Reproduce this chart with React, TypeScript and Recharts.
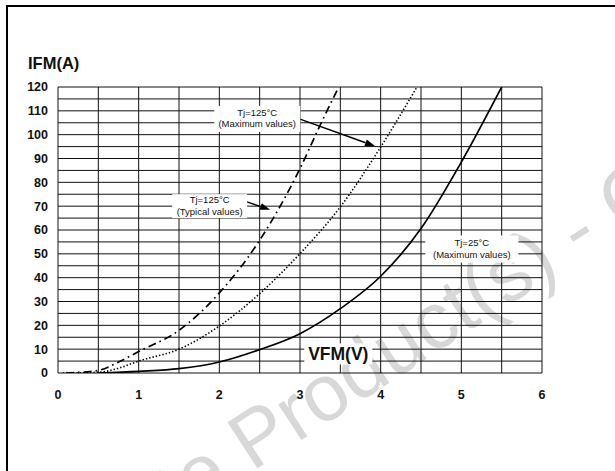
import {
  CartesianGrid,
  Line,
  LineChart,
  ReferenceDot,
  ReferenceLine,
  XAxis,
  YAxis,
} from 'recharts';

const font = '"Liberation Sans", Arial, Helvetica, sans-serif';

// axis ticks (grid every 0.5 V and 5 A, labels on whole values)
const xTicks = [0, 0.5, 1, 1.5, 2, 2.5, 3, 3.5, 4, 4.5, 5, 5.5, 6];
const yTicks = [
  0, 5, 10, 15, 20, 25, 30, 35, 40, 45, 50, 55, 60, 65, 70, 75, 80, 85, 90, 95,
  100, 105, 110, 115, 120,
];

// Tj=25°C, maximum values (solid)
const vf25Max = [0.5, 1, 1.5, 2, 2.5, 3, 3.5, 4, 4.5, 5, 5.5];
const if25Max = [0, 0.7, 1.8, 4.6, 9.8, 16.5, 27, 40.6, 60.6, 88.5, 120];

// Tj=125°C, maximum values (dotted)
const vf125Max = [0.06, 0.5, 0.75, 1, 1.5, 2, 2.5, 3, 3.5, 4, 4.45];
const if125Max = [0, 0.3, 2, 5, 10, 19.7, 33.3, 50.1, 69.7, 94.8, 120];

// Tj=125°C, typical values (dash-dot)
const vf125Typ = [0.1, 0.5, 0.75, 1, 1.5, 2, 2.5, 3, 3.25, 3.48];
const if125Typ = [0, 1.1, 4.6, 9, 17.9, 33.6, 55.7, 85.8, 104, 120];

const toPoints = (vf: number[], ifm: number[]) =>
  vf.map((v, i) => ({ vf: v, ifm: ifm[i] }));

// annotation boxes, placed in data units
const notes = [
  { x: 2.47, y: 106.6, lines: ['Tj=125°C', '(Maximum values)'], w: 86, h: 26 },
  { x: 1.88, y: 70, lines: ['Tj=125°C', '(Typical values)'], w: 75, h: 24 },
  { x: 5.13, y: 52, lines: ['Tj=25°C', '(Maximum values)'], w: 93, h: 27 },
];

const arrows = [
  { from: { x: 3.0, y: 106.5 }, to: { x: 3.93, y: 95.2 } },
  { from: { x: 2.28, y: 72.5 }, to: { x: 2.63, y: 68.5 } },
];

function NoteBox({ cx, cy, lines, w, h }: any) {
  return (
    <g>
      <rect x={cx - w / 2} y={cy - h / 2} width={w} height={h} fill="#fff" />
      {lines.map((t: string, i: number) => (
        <text
          key={t}
          x={cx}
          y={cy - 3 + i * 11.5}
          textAnchor="middle"
          fontSize={9.5}
          fontFamily={font}
          fill="#111"
        >
          {t}
        </text>
      ))}
    </g>
  );
}

function AxisTitle({ cx, cy }: any) {
  return (
    <g>
      <rect x={cx - 34} y={cy - 10.5} width={68} height={21} fill="#fff" />
      <text
        x={cx}
        y={cy + 6}
        textAnchor="middle"
        fontSize={17.5}
        fontWeight={700}
        fontFamily={font}
        fill="#111"
      >
        VFM(V)
      </text>
    </g>
  );
}

function Arrow({ x1, y1, x2, y2 }: any) {
  const a = Math.atan2(y2 - y1, x2 - x1);
  const len = 10;
  const hw = 3.5;
  const bx = x2 - len * Math.cos(a);
  const by = y2 - len * Math.sin(a);
  const px = -Math.sin(a) * hw;
  const py = Math.cos(a) * hw;
  return (
    <g>
      <line x1={x1} y1={y1} x2={bx} y2={by} stroke="#000" strokeWidth={1.4} />
      <polygon
        points={`${x2},${y2} ${bx + px},${by + py} ${bx - px},${by - py}`}
        fill="#000"
      />
    </g>
  );
}

export default function App() {
  const tickStyle = {
    fill: '#111',
    fontSize: 12.5,
    fontWeight: 700,
    fontFamily: font,
  };
  return (
    <div
      style={{
        position: 'absolute',
        left: 0,
        top: 0,
        width: 615,
        height: 471,
        overflow: 'hidden',
        background: '#fff',
        fontFamily: font,
      }}
    >
      <svg
        width={615}
        height={471}
        style={{ position: 'absolute', left: 0, top: 0 }}
      >
        <g
          transform="rotate(-33 252 472)"
          fontFamily={font}
          fontSize={80}
          fill="#d8d8d8"
        >
          <text x={230} y={472} textAnchor="end">
            Obsolete
          </text>
          <text x={252} y={472}>
            Product(s) - Obsolete Product(s)
          </text>
        </g>
      </svg>

      <div
        style={{
          position: 'absolute',
          left: 6,
          top: 5,
          width: 800,
          height: 800,
          borderLeft: '2px solid #000',
          borderTop: '2px solid #000',
        }}
      />

      <div
        style={{
          position: 'absolute',
          left: 28,
          top: 53,
          fontSize: 16.5,
          fontWeight: 700,
          color: '#111',
          lineHeight: '20px',
        }}
      >
        IFM(A)
      </div>

      <div style={{ position: 'absolute', left: 0, top: 0 }}>
        <LineChart
          width={615}
          height={471}
          margin={{ top: 87, right: 73, bottom: 68, left: 0 }}
        >
          <CartesianGrid stroke="#111" strokeWidth={1} />
          <XAxis
            dataKey="vf"
            type="number"
            domain={[0, 6]}
            ticks={xTicks}
            interval={0}
            allowDataOverflow
            tickFormatter={v => (Number.isInteger(v) ? String(v) : '')}
            axisLine={false}
            tickLine={false}
            tick={tickStyle}
            tickMargin={11}
            height={30}
          />
          <YAxis
            type="number"
            domain={[0, 120]}
            ticks={yTicks}
            interval={0}
            allowDataOverflow
            tickFormatter={v => (v % 10 === 0 ? String(v) : '')}
            axisLine={false}
            tickLine={false}
            tick={tickStyle}
            tickMargin={4}
            width={58}
          />

          <ReferenceDot
            x={3.475}
            y={8}
            r={1}
            shape={(p: any) => <AxisTitle cx={p.cx} cy={p.cy} />}
          />
          {notes.map(n => (
            <ReferenceDot
              key={n.lines.join() + n.x}
              x={n.x}
              y={n.y}
              r={1}
              shape={(p: any) => (
                <NoteBox cx={p.cx} cy={p.cy} lines={n.lines} w={n.w} h={n.h} />
              )}
            />
          ))}
          {arrows.map(a => (
            <ReferenceLine
              key={`${a.from.x}-${a.from.y}`}
              segment={[a.from, a.to]}
              shape={(p: any) => <Arrow {...p} />}
            />
          ))}

          <Line
            data={toPoints(vf25Max, if25Max)}
            dataKey="ifm"
            type="monotone"
            stroke="#000"
            strokeWidth={1.7}
            dot={false}
            isAnimationActive={false}
          />
          <Line
            data={toPoints(vf125Max, if125Max)}
            dataKey="ifm"
            type="monotone"
            stroke="#000"
            strokeWidth={1.6}
            strokeDasharray="1.4 2"
            dot={false}
            isAnimationActive={false}
          />
          <Line
            data={toPoints(vf125Typ, if125Typ)}
            dataKey="ifm"
            type="monotone"
            stroke="#000"
            strokeWidth={1.7}
            strokeDasharray="8 4 1.6 4"
            dot={false}
            isAnimationActive={false}
          />
        </LineChart>
      </div>
    </div>
  );
}
